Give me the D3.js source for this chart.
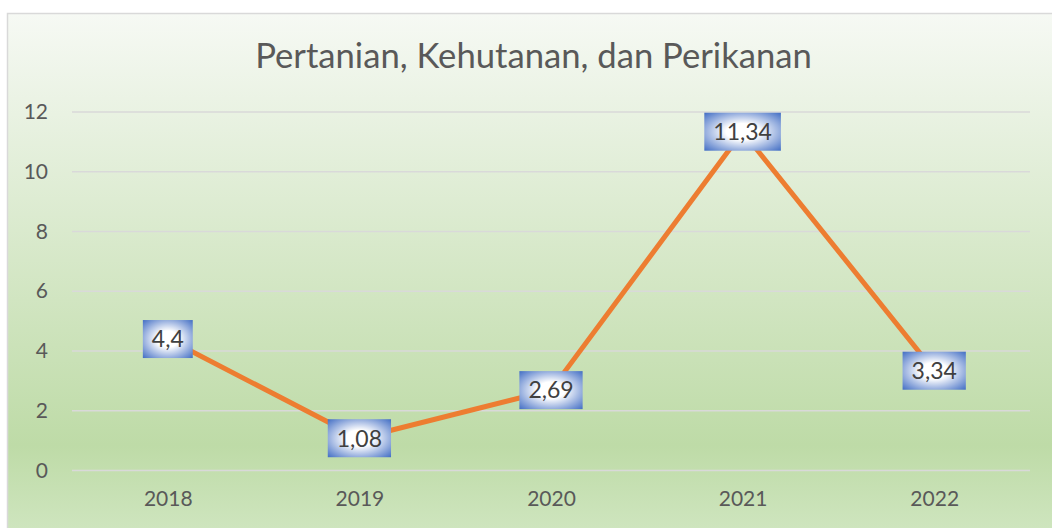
<!DOCTYPE html>
<html><head><meta charset="utf-8">
<script src="https://cdn.jsdelivr.net/npm/d3@7"></script>
<style>
html,body{margin:0;padding:0;background:#fff;}
svg{display:block;}
text{font-family:Lato,"Open Sans",sans-serif;}
</style></head>
<body><svg id="c" width="1052" height="528"></svg>
<script>
const title = "Pertanian, Kehutanan, dan Perikanan";
const years = ["2018","2019","2020","2021","2022"];
const values = [4.4, 1.08, 2.69, 11.34, 3.34];
const labels = ["4,4","1,08","2,69","11,34","3,34"];
const yTicks = [0,2,4,6,8,10,12];

const svg = d3.select("#c");
const defs = svg.append("defs");
const bg = defs.append("linearGradient").attr("id","bg").attr("x1",0).attr("y1",0).attr("x2",0).attr("y2",1);
bg.append("stop").attr("offset","0%").attr("stop-color","#f6f9f4");
bg.append("stop").attr("offset","80%").attr("stop-color","#bedba7");
bg.append("stop").attr("offset","100%").attr("stop-color","#d3e8c5");
const rg = defs.append("radialGradient").attr("id","lbl").attr("cx","50%").attr("cy","50%").attr("r","72%");
rg.append("stop").attr("offset","0%").attr("stop-color","#ffffff");
rg.append("stop").attr("offset","30%").attr("stop-color","#ffffff");
rg.append("stop").attr("offset","100%").attr("stop-color","#3c69c2");

svg.append("rect").attr("x",7.5).attr("y",13.5).attr("width",1060).attr("height",540)
  .attr("fill","url(#bg)").attr("stroke","#d9d9d9").attr("stroke-width",1.5);

const x = d3.scalePoint().domain(years).range([72,1030]).padding(0.5);
const y = d3.scaleLinear().domain([0,12]).range([470.5,112]);

const t = svg.append("text").attr("x",533.5).attr("y",68).attr("text-anchor","middle")
  .attr("fill","#595959").style("font-size","30px").text(title);
const tw = t.node().getComputedTextLength();
t.style("font-size",(30*557/tw)+"px");

svg.append("g").selectAll("line").data(yTicks).join("line")
  .attr("x1",72).attr("x2",1030).attr("y1",d=>y(d)).attr("y2",d=>y(d))
  .attr("stroke","#d9d9d9").attr("stroke-width",1.6);

const ya = svg.append("g").attr("transform","translate(72,0)")
  .call(d3.axisLeft(y).tickValues(yTicks).tickSize(0).tickPadding(24));
ya.select(".domain").remove();
ya.selectAll("text").attr("fill","#595959").style("font-size","21px").style("font-family","Lato,'Open Sans',sans-serif");

const xa = svg.append("g").attr("transform","translate(0,470.5)")
  .call(d3.axisBottom(x).tickSize(0).tickPadding(21));
xa.select(".domain").remove();
xa.selectAll("text").attr("fill","#595959").style("font-size","21px").style("font-family","Lato,'Open Sans',sans-serif");

const data = years.map((yr,i)=>({yr, v:values[i], l:labels[i]}));
svg.append("path").datum(data)
  .attr("d", d3.line().x(d=>x(d.yr)).y(d=>y(d.v)))
  .attr("fill","none").attr("stroke","#ed7d31").attr("stroke-width",5).attr("stroke-linejoin","round");

const g = svg.append("g").selectAll("g").data(data).join("g")
  .attr("transform",d=>`translate(${x(d.yr)},${y(d.v)})`);
const rects = g.append("rect").attr("fill","url(#lbl)");
const texts = g.append("text").attr("text-anchor","middle").attr("dy","0.36em")
  .attr("fill","#404040").style("font-size","23px").text(d=>d.l);
texts.each(function(d){ d.w = this.getComputedTextLength(); });
rects.attr("x",d=>-(d.w+18)/2).attr("y",-19).attr("width",d=>d.w+18).attr("height",38);
</script></body></html>
